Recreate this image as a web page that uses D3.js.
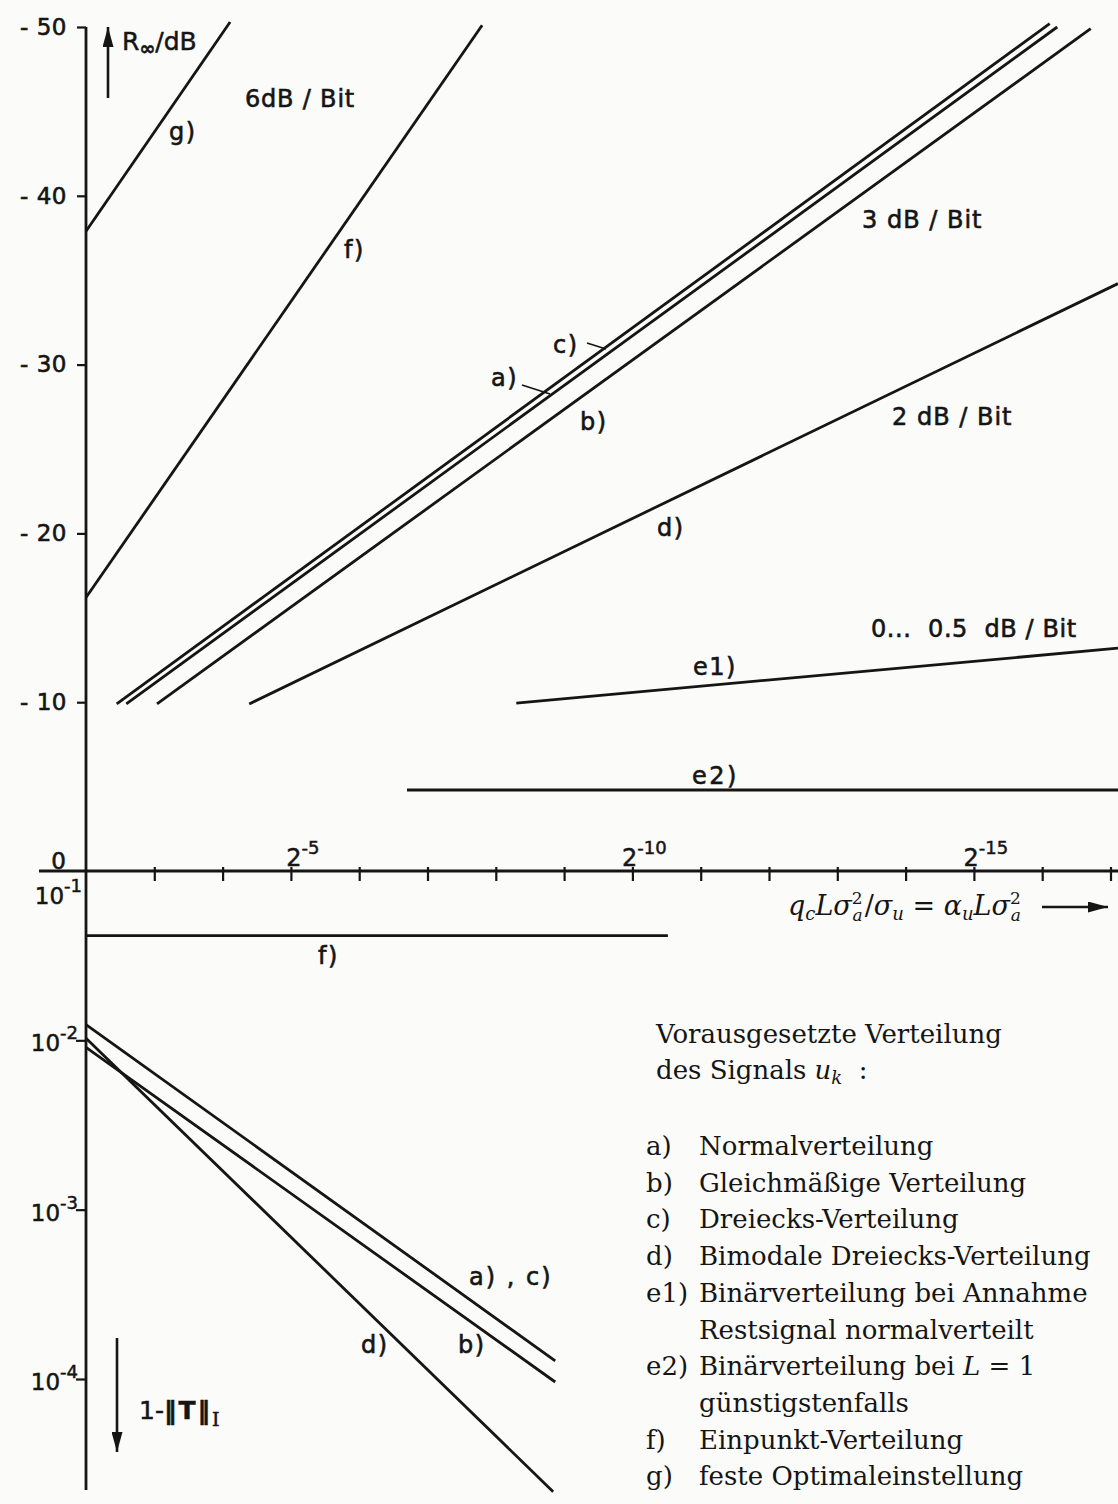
<!DOCTYPE html>
<html>
<head>
<meta charset="utf-8">
<script src="https://cdn.jsdelivr.net/npm/d3@7"></script>
<style>
  body { margin: 0; background: #fbfbf9; }
  svg { display: block; }
  text { white-space: pre; }
</style>
</head>
<body>
<svg id="chart" width="1118" height="1504"></svg>
<script>
// x axis: q_c L sigma_a^2 / sigma_u = 2^e, values stored as the exponent e
const xTickExps = [-3, -4, -5, -6, -7, -8, -9, -10, -11, -12, -13, -14, -15, -16, -17];
const xLabelExps = [-5, -10, -15];

// upper panel: R_inf in dB
const yTopTicks = [-10, -20, -30, -40, -50];
const topG = [{ e: -2, r: -37.9 }, { e: -4.11, r: -50.3 }];
const topF = [{ e: -2, r: -16.2 }, { e: -7.8, r: -50.1 }];
const topC = [{ e: -2.45, r: -9.9 }, { e: -16.11, r: -50.2 }];
const topA = [{ e: -2.59, r: -9.9 }, { e: -16.22, r: -50.0 }];
const topB = [{ e: -3.04, r: -9.9 }, { e: -16.71, r: -49.9 }];
const topD = [{ e: -4.39, r: -9.9 }, { e: -17.11, r: -34.8 }];
const topE1 = [{ e: -8.3, r: -9.95 }, { e: -17.11, r: -13.2 }];
const topE2 = [{ e: -6.7, r: -4.8 }, { e: -17.11, r: -4.8 }];

// lower panel: 1 - ||T||_I (log)
const yBottomTicks = [1e-2, 1e-3, 1e-4];
const botF = [{ e: -2, v: 0.0415 }, { e: -10.52, v: 0.0415 }];
const botAC = [{ e: -2, v: 0.0124 }, { e: -8.87, v: 1.28e-4 }];
const botB = [{ e: -2, v: 0.0091 }, { e: -8.87, v: 9.6e-5 }];
const botD = [{ e: -2, v: 0.0103 }, { e: -8.84, v: 2.16e-5 }];

// legend
const legendKeys = ["a)", "b)", "c)", "d)", "e1)", "", "e2)", "", "f)", "g)"];
const legendTexts = [
  "Normalverteilung",
  "Gleichmäßige Verteilung",
  "Dreiecks-Verteilung",
  "Bimodale Dreiecks-Verteilung",
  "Binärverteilung bei Annahme",
  "Restsignal normalverteilt",
  "Binärverteilung bei L = 1",
  "günstigstenfalls",
  "Einpunkt-Verteilung",
  "feste Optimaleinstellung"
];

const ink = "#151515";
const sans = "DejaVu Sans, sans-serif";
const serif = "DejaVu Serif, serif";

const svg = d3.select("#chart");
svg.append("rect").attr("width", 1118).attr("height", 1504).attr("fill", "#fbfbf9");

const defs = svg.append("defs");
defs.append("marker")
  .attr("id", "arrow")
  .attr("viewBox", "0 0 10 10")
  .attr("refX", 10)
  .attr("refY", 5)
  .attr("markerUnits", "userSpaceOnUse")
  .attr("markerWidth", 20)
  .attr("markerHeight", 11)
  .attr("preserveAspectRatio", "none")
  .attr("orient", "auto")
  .append("path")
  .attr("d", "M0,0 L10,5 L0,10 Z")
  .attr("fill", ink);

// scales
const x = d3.scaleLog().base(2).domain([2 ** -2, 2 ** -17]).range([86, 1110.5]);
const yTop = d3.scaleLinear().domain([0, -50]).range([871, 27]);
const yBot = d3.scaleLog().domain([1e-1, 1e-4]).range([871, 1379]);

// scanned lettering is a bit heavier than the plain font
function heavy(sel, w) {
  return sel.attr("stroke", ink).attr("stroke-width", w || 0.6);
}

// axis lines
svg.append("line")
  .attr("x1", 39).attr("x2", 1118)
  .attr("y1", yTop(0)).attr("y2", yTop(0))
  .attr("stroke", ink).attr("stroke-width", 2.8);
svg.append("line")
  .attr("x1", x(2 ** -2)).attr("x2", x(2 ** -2))
  .attr("y1", yTop(-50)).attr("y2", 1490)
  .attr("stroke", ink).attr("stroke-width", 2.8);

// x ticks
const xAxis = d3.axisBottom(x)
  .tickValues(xTickExps.map(e => 2 ** e))
  .tickSize(10)
  .tickSizeOuter(0)
  .tickFormat("");
const gx = svg.append("g")
  .attr("transform", `translate(0,${yTop(0)})`)
  .call(xAxis);
gx.select(".domain").remove();
gx.selectAll(".tick line")
  .attr("y1", -4).attr("y2", 10)
  .attr("stroke", ink).attr("stroke-width", 2.2);

xLabelExps.forEach(e => {
  const t = svg.append("text")
    .attr("x", x(2 ** e) + 12)
    .attr("y", 866)
    .attr("text-anchor", "middle")
    .attr("font-family", sans)
    .attr("font-size", 24)
    .attr("fill", ink);
  heavy(t, 0.5);
  t.append("tspan").text("2");
  t.append("tspan").attr("dy", -12).attr("font-size", 18).text("-" + -e);
});

// upper y axis
const gyt = svg.append("g")
  .attr("transform", `translate(${x(2 ** -2)},0)`)
  .call(d3.axisLeft(yTop).tickValues(yTopTicks).tickSize(9).tickSizeOuter(0)
    .tickPadding(10).tickFormat(d => "- " + -d));
gyt.select(".domain").remove();
gyt.selectAll(".tick line").attr("stroke", ink).attr("stroke-width", 2.2);
heavy(gyt.selectAll(".tick text")
  .attr("font-family", sans).attr("font-size", 23)
  .attr("letter-spacing", 0.5).attr("fill", ink), 0.6);

heavy(svg.append("text")
  .attr("x", 66).attr("y", 869)
  .attr("text-anchor", "end")
  .attr("font-family", sans).attr("font-size", 23).attr("fill", ink)
  .text("0"), 0.6);

// lower y axis
const gyb = svg.append("g")
  .attr("transform", `translate(${x(2 ** -2)},0)`)
  .call(d3.axisLeft(yBot).tickValues(yBottomTicks).tickSize(10).tickSizeOuter(0).tickFormat(""));
gyb.select(".domain").remove();
gyb.selectAll(".tick line").attr("stroke", ink).attr("stroke-width", 2.2);

function powerLabel(v, xr, yb) {
  const t = svg.append("text")
    .attr("x", xr).attr("y", yb)
    .attr("text-anchor", "end")
    .attr("font-family", sans).attr("font-size", 23).attr("fill", ink);
  heavy(t, 0.5);
  t.append("tspan").text("10");
  t.append("tspan").attr("dy", -12).attr("font-size", 18).text("-" + Math.round(-Math.log10(v)));
}
yBottomTicks.forEach(v => powerLabel(v, 78, yBot(v) + 11));
powerLabel(1e-1, 82, yBot(1e-1) + 33);

// curves
const lineTop = d3.line().x(d => x(2 ** d.e)).y(d => yTop(d.r));
const lineBot = d3.line().x(d => x(2 ** d.e)).y(d => yBot(d.v));

[topG, topF, topC, topA, topB, topD, topE1, topE2].forEach(s => {
  svg.append("path")
    .attr("d", lineTop(s))
    .attr("fill", "none").attr("stroke", ink).attr("stroke-width", 2.8);
});
[botF, botAC, botB, botD].forEach(s => {
  svg.append("path")
    .attr("d", lineBot(s))
    .attr("fill", "none").attr("stroke", ink).attr("stroke-width", 2.8);
});

// curve labels
function label(txt, lx, ly, size, spacing) {
  return heavy(svg.append("text")
    .attr("x", lx).attr("y", ly)
    .attr("font-family", sans)
    .attr("font-size", size || 24)
    .attr("letter-spacing", spacing || 1.5)
    .attr("fill", ink)
    .text(txt), 0.6);
}
label("6dB / Bit", 245, 107, 24, 0.8);
label("g)", 169, 140);
label("f)", 344, 258);
label("3 dB / Bit", 862, 228, 24, 1);
label("c)", 553, 353);
label("a)", 491, 386);
label("b)", 580, 430);
label("2 dB / Bit", 892, 425, 24, 1);
label("d)", 657, 536);
label("0...  0.5  dB / Bit", 871, 637, 24, 0.6);
label("e1)", 693, 675);
label("e2)", 692, 784, 24, 2.5);
label("f)", 318, 964);
label("a) , c)", 469, 1285, 24, 2);
label("d)", 361, 1353);
label("b)", 458, 1353);

// leader lines to a) and c)
[[587, 343, 606, 349], [522, 385, 550, 394]].forEach(p => {
  svg.append("line")
    .attr("x1", p[0]).attr("y1", p[1]).attr("x2", p[2]).attr("y2", p[3])
    .attr("stroke", ink).attr("stroke-width", 1.8);
});

// axis titles
svg.append("line")
  .attr("x1", 108).attr("x2", 108).attr("y1", 98).attr("y2", 27)
  .attr("stroke", ink).attr("stroke-width", 2.6).attr("marker-end", "url(#arrow)");
const rt = svg.append("text")
  .attr("x", 122).attr("y", 50)
  .attr("font-family", sans).attr("font-size", 25).attr("fill", ink);
heavy(rt, 0.5);
rt.append("tspan").text("R");
rt.append("tspan").attr("dy", 5).attr("font-size", 19).attr("font-weight", "bold").text("∞");
rt.append("tspan").attr("dy", -5).text("/dB");

svg.append("line")
  .attr("x1", 117).attr("x2", 117).attr("y1", 1338).attr("y2", 1452)
  .attr("stroke", ink).attr("stroke-width", 2.6).attr("marker-end", "url(#arrow)");
const tt = svg.append("text")
  .attr("x", 139).attr("y", 1419)
  .attr("font-family", sans).attr("font-size", 25).attr("fill", ink);
heavy(tt, 0.5);
tt.append("tspan").text("1-");
tt.append("tspan").attr("font-weight", "bold").attr("letter-spacing", 2).text("‖T‖");
tt.append("tspan").attr("dy", 7).attr("font-family", serif).attr("font-size", 19).text("I");

// x axis title (math)
const mx = svg.append("text")
  .attr("x", 788).attr("y", 915)
  .attr("font-family", serif).attr("font-size", 27).attr("fill", ink);
function mpart(txt, opts) {
  const o = opts || {};
  const s = mx.append("tspan").text(txt);
  if (o.italic) s.attr("font-style", "italic");
  if (o.size) s.attr("font-size", o.size);
  if (o.dy) s.attr("dy", o.dy);
  if (o.dx) s.attr("dx", o.dx);
  return s;
}
mpart("q", { italic: true });
mpart("c", { italic: true, size: 18, dy: 5 });
mpart("L", { italic: true, dy: -5 });
mpart("σ", { italic: true });
mpart("2", { size: 17, dy: -11 });
mpart("a", { italic: true, size: 17, dy: 17, dx: -10 });
mpart("/", { dy: -6, dx: 2 });
mpart("σ", { italic: true });
mpart("u", { italic: true, size: 18, dy: 5 });
mpart(" = ", { dy: -5 });
mpart("α", { italic: true });
mpart("u", { italic: true, size: 18, dy: 5 });
mpart("L", { italic: true, dy: -5 });
mpart("σ", { italic: true });
mpart("2", { size: 17, dy: -11 });
mpart("a", { italic: true, size: 17, dy: 17, dx: -10 });

svg.append("line")
  .attr("x1", 1042).attr("x2", 1108).attr("y1", 907).attr("y2", 907)
  .attr("stroke", ink).attr("stroke-width", 2.6).attr("marker-end", "url(#arrow)");

// legend
const lg = svg.append("g")
  .attr("font-family", serif).attr("font-size", 26).attr("fill", ink);
lg.append("text").attr("x", 656).attr("y", 1043).text("Vorausgesetzte Verteilung");
const sig = lg.append("text").attr("x", 656).attr("y", 1079);
sig.append("tspan").text("des Signals ");
sig.append("tspan").attr("font-style", "italic").text("u");
sig.append("tspan").attr("font-style", "italic").attr("font-size", 18).attr("dy", 5).text("k");
sig.append("tspan").attr("dy", -5).text("  :");

legendTexts.forEach((txt, i) => {
  const yb = 1155 + i * 36.7;
  if (legendKeys[i]) lg.append("text").attr("x", 646).attr("y", yb).text(legendKeys[i]);
  const t = lg.append("text").attr("x", 699).attr("y", yb);
  txt.split(/(\bL\b)/).forEach(part => {
    const s = t.append("tspan").text(part);
    if (part === "L") s.attr("font-style", "italic");
  });
});
</script>
</body>
</html>
